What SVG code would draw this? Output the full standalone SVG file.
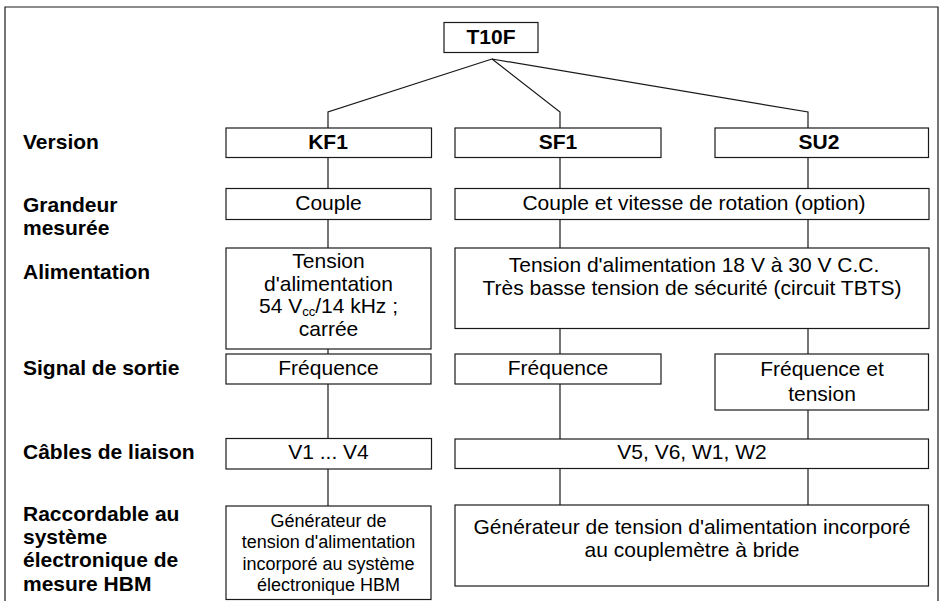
<svg xmlns="http://www.w3.org/2000/svg" width="941" height="601" viewBox="0 0 941 601">
<style>
.bx{fill:#fff;stroke:#1a1a1a;stroke-width:1.2}
.ln{fill:none;stroke:#1a1a1a;stroke-width:1.2}
text{font-family:"Liberation Sans",Arial,sans-serif;font-size:21px;fill:#000}
.c{text-anchor:middle}
.b{font-weight:bold}
.s{font-size:18px}
</style>
<rect x="0" y="0" width="941" height="601" fill="#fff"/>
<path class="ln" d="M5,602 V7 H938 V602"/>
<g id="connectors">
<path class="ln" d="M492,59 L328,112 V128 M492,59 L560,112 V128 M492,59 L808,112 V128"/>
<path class="ln" d="M328,158 V188 M328,219 V248 M328,349 V354 M328,384 V438 M328,469 V506"/>
<path class="ln" d="M560,158 V188 M560,219 V248 M560,328 V354 M560,384 V439 M560,468 V505"/>
<path class="ln" d="M808,158 V188 M808,219 V248 M808,328 V354 M808,410 V439 M808,468 V505"/>
</g>
<g id="labels">
<text class="b" x="23" y="149">Version</text>
<text class="b" x="23" y="211.7">Grandeur</text>
<text class="b" x="23" y="235">mesurée</text>
<text class="b" x="23" y="279">Alimentation</text>
<text class="b" x="23" y="375">Signal de sortie</text>
<text class="b" x="23" y="458.5">Câbles de liaison</text>
<text class="b" x="23" y="521">Raccordable au</text>
<text class="b" x="23" y="544">système</text>
<text class="b" x="23" y="567.3">électronique de</text>
<text class="b" x="23" y="590.5">mesure HBM</text>
</g>
<g id="t10f"><rect class="bx" x="444" y="22.5" width="94" height="30"/><text class="c b" x="491" y="43.5">T10F</text></g>
<g id="kf1"><rect class="bx" x="226" y="128" width="205.5" height="29.5"/><text class="c b" x="328" y="148.5">KF1</text></g>
<g id="sf1"><rect class="bx" x="455" y="128" width="206" height="29.5"/><text class="c b" x="558" y="148.5">SF1</text></g>
<g id="su2"><rect class="bx" x="715" y="128" width="213.5" height="29.5"/><text class="c b" x="819" y="148.5">SU2</text></g>
<g id="couple"><rect class="bx" x="226" y="188.5" width="205" height="31"/><text class="c" x="328.5" y="209.5">Couple</text></g>
<g id="couple-vitesse"><rect class="bx" x="455" y="188.5" width="474" height="31"/><text class="c" x="694" y="209.5">Couple et vitesse de rotation (option)</text></g>
<g id="alim-kf1"><rect class="bx" x="226" y="248" width="205" height="101"/>
<text class="c" x="328.5" y="268.3">Tension</text>
<text class="c" x="328.5" y="291">d'alimentation</text>
<text class="c" x="328.5" y="313.3">54 V<tspan font-size="13" dy="2.5">cc</tspan><tspan dy="-2.5">/14 kHz ;</tspan></text>
<text class="c" x="328.5" y="336">carrée</text></g>
<g id="alim-sf1-su2"><rect class="bx" x="455" y="248" width="474" height="80.5"/>
<text class="c" x="694" y="271.7">Tension d'alimentation 18 V à 30 V C.C.</text>
<text class="c" x="692" y="295">Très basse tension de sécurité (circuit TBTS)</text></g>
<g id="freq-kf1"><rect class="bx" x="226" y="354" width="205" height="30"/><text class="c" x="328.5" y="374.5">Fréquence</text></g>
<g id="freq-sf1"><rect class="bx" x="455" y="354" width="206" height="30"/><text class="c" x="558" y="374.5">Fréquence</text></g>
<g id="freq-su2"><rect class="bx" x="715" y="354" width="213.5" height="56"/><text class="c" x="822" y="375.5">Fréquence et</text><text class="c" x="822" y="401">tension</text></g>
<g id="cables-kf1"><rect class="bx" x="226" y="438.5" width="205.5" height="30.5"/><text class="c" x="328.5" y="459">V1 ... V4</text></g>
<g id="cables-sf1-su2"><rect class="bx" x="455" y="439" width="473.5" height="29.5"/><text class="c" x="692" y="459">V5, V6, W1, W2</text></g>
<g id="gen-kf1"><rect class="bx" x="226" y="506" width="205" height="93.5"/>
<text class="c s" x="328.5" y="526.7">Générateur de</text>
<text class="c s" x="328.5" y="548.3">tension d'alimentation</text>
<text class="c s" x="328.5" y="570">incorporé au système</text>
<text class="c s" x="328.5" y="590.7">électronique HBM</text></g>
<g id="gen-sf1-su2"><rect class="bx" x="455" y="505" width="473.5" height="81"/>
<text class="c" x="692" y="534">Générateur de tension d'alimentation incorporé</text>
<text class="c" x="692" y="556.7">au couplemètre à bride</text></g>
</svg>
